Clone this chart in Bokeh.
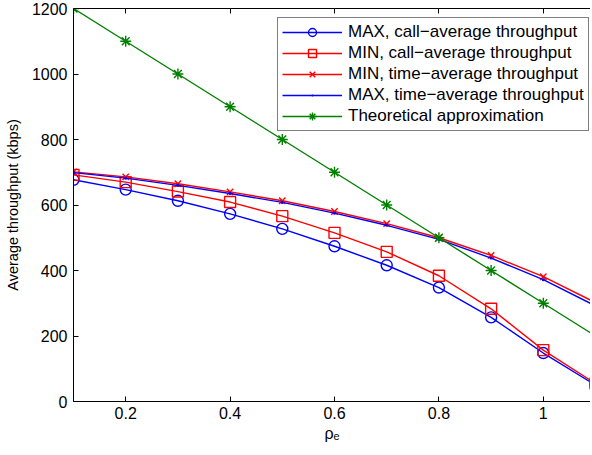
from bokeh.plotting import figure
from bokeh.models import Range1d, FixedTicker, LinearAxis, Legend
from bokeh.embed import file_html
from bokeh.resources import INLINE

rho = [0.1, 0.2, 0.3, 0.4, 0.5, 0.6, 0.7, 0.8, 0.9, 1.0, 1.1]
max_call = [677, 647, 613, 573, 527, 474, 416, 348, 257, 148, 50]
min_call = [692, 670, 641, 609, 566, 515, 457, 384, 283, 157, 55]
min_time = [701, 686, 665, 640, 613, 580, 543, 500, 446, 381, 302]
max_time = [699, 682, 660, 635, 608, 575, 538, 495, 438, 372, 292]
theory = [1200, 1100, 1000, 900, 800, 700, 600, 500, 400, 300, 200]

x_ticks = [0.2, 0.4, 0.6, 0.8, 1.0]
x_tick_labels = ["0.2", "0.4", "0.6", "0.8", "1"]
y_ticks = [0, 200, 400, 600, 800, 1000, 1200]

FONT = "Liberation Sans"

p = figure(width=590, height=447, output_backend="svg", toolbar_location=None,
           x_range=Range1d(0.1, 1.0904), y_range=Range1d(0, 1200),
           min_border_left=73, min_border_right=0, min_border_top=8, min_border_bottom=46)
p.outline_line_color = None
p.grid.visible = False
p.background_fill_color = "white"

for ax in [p.xaxis[0], p.yaxis[0]]:
    ax.major_tick_in = 5
    ax.major_tick_out = 0
    ax.minor_tick_line_color = None
    ax.axis_line_color = "black"
    ax.major_tick_line_color = "black"
    ax.major_label_text_font = FONT
    ax.major_label_text_font_size = "16px"
    ax.major_label_text_color = "black"
    ax.axis_label_text_font = FONT
    ax.axis_label_text_font_style = "normal"
    ax.axis_label_text_color = "black"

p.xaxis[0].ticker = FixedTicker(ticks=x_ticks)
p.xaxis[0].major_label_overrides = dict(zip(x_ticks, x_tick_labels))
p.xaxis[0].major_label_standoff = 5
p.xaxis[0].axis_label = "ρₑ"
p.xaxis[0].axis_label_text_font_size = "16px"
p.xaxis[0].axis_label_standoff = 3
p.yaxis[0].ticker = FixedTicker(ticks=y_ticks)
p.yaxis[0].major_label_standoff = 6
p.yaxis[0].axis_label = "Average throughput (kbps)"
p.yaxis[0].axis_label_text_font_size = "14.5px"
p.yaxis[0].axis_label_standoff = 8

top = LinearAxis(ticker=FixedTicker(ticks=x_ticks), major_tick_in=5, major_tick_out=0,
                 minor_tick_line_color=None, major_label_text_font_size="0px",
                 major_label_standoff=0)
p.add_layout(top, "above")

BLUE = "#0000ff"
RED = "#ff0000"
GREEN = "#008000"
LW = 1.4

r1 = p.line(rho, max_call, color=BLUE, line_width=LW)
m1 = p.scatter(rho, max_call, marker="circle", size=11, line_color=BLUE, fill_color=None, line_width=LW)
r2 = p.line(rho, min_call, color=RED, line_width=LW)
m2 = p.scatter(rho, min_call, marker="square", size=11, line_color=RED, fill_color=None, line_width=LW)
r3 = p.line(rho, min_time, color=RED, line_width=LW)
m3 = p.scatter(rho, min_time, marker="x", size=9, line_color=RED, line_width=LW)
r4 = p.line(rho, max_time, color=BLUE, line_width=LW)
m4 = p.scatter(rho, max_time, marker="dot", size=12, line_color=BLUE, fill_color=BLUE)
r5 = p.line(rho, theory, color=GREEN, line_width=LW)
m5 = p.scatter(rho, theory, marker="asterisk", size=11, line_color=GREEN, line_width=LW)

legend = Legend(items=[
    ("MAX, call\u2212average throughput", [r1, m1]),
    ("MIN, call\u2212average throughput", [r2, m2]),
    ("MIN, time\u2212average throughput", [r3, m3]),
    ("MAX, time\u2212average throughput", [r4, m4]),
    ("Theoretical approximation", [r5, m5]),
], location=(204, 270))
legend.label_text_font = FONT
legend.label_text_font_size = "17px"
legend.label_text_color = "black"
legend.glyph_width = 60
legend.glyph_height = 20
legend.label_height = 20
legend.label_width = 232
legend.spacing = 1
legend.padding = 4
legend.margin = 0
legend.label_standoff = 6
legend.border_line_color = "black"
legend.border_line_width = 1
legend.background_fill_alpha = 1
p.add_layout(legend)

open("out.html", "w").write(file_html(p, INLINE))
